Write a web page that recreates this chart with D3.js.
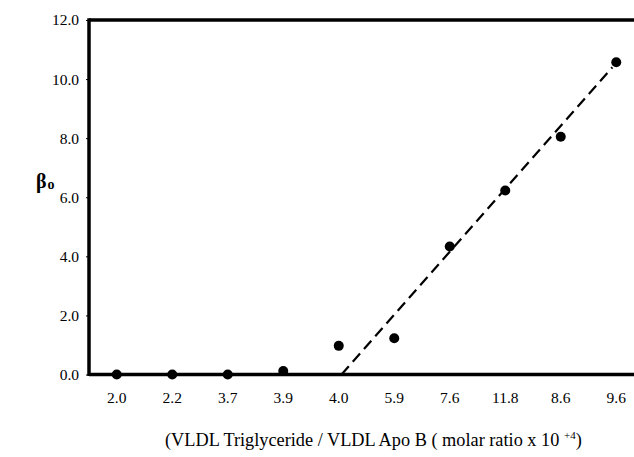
<!DOCTYPE html>
<html><head><meta charset="utf-8">
<script src="https://cdn.jsdelivr.net/npm/d3@7"></script>
<style>body{margin:0;background:#fff}svg{display:block}</style>
</head><body><svg id="c" width="634" height="457"></svg>
<script>
const categories = ["2.0","2.2","3.7","3.9","4.0","5.9","7.6","11.8","8.6","9.6"];
const betaValues = [0, 0, 0, 0.12, 0.97, 1.23, 4.33, 6.23, 8.05, 10.57];
const yTicks = [0, 2, 4, 6, 8, 10, 12];
const trendIndex = [4.05, 8.93];
const trendValue = [0, 10.4];

const svg = d3.select("#c");
const L = 89, T = 20, B = 374.5, R = 644;
const x = d3.scaleBand().domain(categories).range([L, R]).paddingInner(0).paddingOuter(0);
const xi = d3.scaleLinear().domain([-0.5, categories.length - 0.5]).range([L, R]);
const y = d3.scaleLinear().domain([0, 12]).range([B, T]);
const font = "Liberation Serif";

// y axis
const ya = svg.append("g").attr("transform", `translate(${L},0)`)
  .call(d3.axisLeft(y).tickValues(yTicks).tickFormat(d3.format(".1f")).tickSize(3).tickPadding(7));
ya.select(".domain").remove();
ya.attr("font-family", font).attr("font-size", 15.5);
ya.selectAll("text").style("font-family", font).style("font-size", "15.5px").attr("fill", "#000");
ya.selectAll("line").attr("stroke", "#000").attr("stroke-width", 1);

// x axis
const xa = svg.append("g").attr("transform", `translate(0,${B})`)
  .call(d3.axisBottom(x).tickSize(0).tickPadding(17));
xa.select(".domain").remove();
xa.attr("font-family", font).attr("font-size", 15.5);
xa.selectAll("text").style("font-family", font).style("font-size", "15.5px").attr("fill", "#000");

// frame lines
svg.append("line").attr("x1", L).attr("x2", 634).attr("y1", T).attr("y2", T).attr("stroke", "#000").attr("stroke-width", 3.5);
svg.append("line").attr("x1", L).attr("x2", L).attr("y1", T - 1.75).attr("y2", B + 1.5).attr("stroke", "#000").attr("stroke-width", 3.5);
svg.append("line").attr("x1", L).attr("x2", 634).attr("y1", B).attr("y2", B).attr("stroke", "#000").attr("stroke-width", 3.5);

// trend line
svg.append("line")
  .attr("x1", xi(trendIndex[0])).attr("y1", y(trendValue[0]))
  .attr("x2", xi(trendIndex[1])).attr("y2", y(trendValue[1]))
  .attr("stroke", "#000").attr("stroke-width", 2.2).attr("stroke-dasharray", "11,6");

// points
svg.append("g").selectAll("circle").data(betaValues).join("circle")
  .attr("cx", (d, i) => x(categories[i]) + x.bandwidth() / 2)
  .attr("cy", d => y(d)).attr("r", 5).attr("fill", "#000");

// y label
const yl = svg.append("text").attr("x", 36).attr("y", 188)
  .style("font-family", font).style("font-size", "20px").attr("font-weight", "bold").attr("fill", "#000");
yl.append("tspan").text("β");
yl.append("tspan").attr("dx", 1).attr("dy", 1).style("font-size", "14px").text("o");

// x label
const xl = svg.append("text").attr("x", 165).attr("y", 446)
  .style("font-family", font).style("font-size", "18.3px").attr("fill", "#000");
xl.append("tspan").text("(VLDL Triglyceride / VLDL Apo B ( molar ratio x 10 ");
xl.append("tspan").attr("dy", -7).style("font-size", "11px").text("+4");
xl.append("tspan").attr("dy", 7).text(")");
</script></body></html>
